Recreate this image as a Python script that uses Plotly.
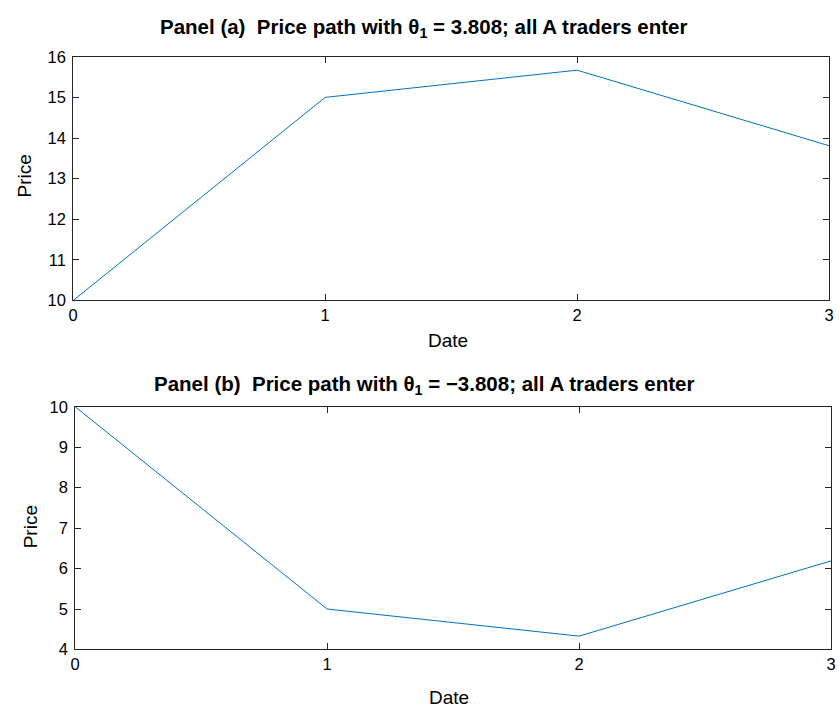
import plotly.graph_objects as go

dates = [0, 1, 2, 3]
price_a = [10.0, 15.0, 15.67, 13.81]
price_b = [10.0, 5.0, 4.33, 6.19]
title_a = "Panel (a)  Price path with θ<sub>1</sub> = 3.808; all A traders enter"
title_b = "Panel (b)  Price path with θ<sub>1</sub> = −3.808; all A traders enter"
yticks_a = [10, 11, 12, 13, 14, 15, 16]
yticks_b = [4, 5, 6, 7, 8, 9, 10]

W, H = 839, 716
FONT = "Arial, Liberation Sans, sans-serif"
AX = "#262626"
LINE = "#0072BD"

def px(x):
    return x / W

def py(y):
    return 1 - y / H

fig = go.Figure()
fig.add_trace(go.Scatter(x=dates, y=price_a, mode="lines", line=dict(color=LINE, width=1),
                         xaxis="x", yaxis="y", showlegend=False))
fig.add_trace(go.Scatter(x=dates, y=price_b, mode="lines", line=dict(color=LINE, width=1),
                         xaxis="x2", yaxis="y2", showlegend=False))

axis_common = dict(showline=True, linecolor=AX, linewidth=1, mirror="ticks", ticks="inside",
                   ticklen=6, tickcolor=AX, tickwidth=1, showgrid=False, zeroline=False,
                   ticklabeloverflow="allow",
                   tickfont=dict(family=FONT, size=16.5, color="#000000"))

fig.update_layout(
    width=W, height=H,
    margin=dict(l=0, r=0, t=0, b=0),
    paper_bgcolor="white", plot_bgcolor="white",
    xaxis=dict(domain=[px(69), px(834)], range=[0, 3], tickvals=dates, anchor="y", **axis_common),
    yaxis=dict(domain=[py(299), py(49)], range=[10, 16], tickvals=yticks_a, anchor="x",
               ticklabelstandoff=3, **axis_common),
    xaxis2=dict(domain=[px(71), px(836)], range=[0, 3], tickvals=dates, anchor="y2", **axis_common),
    yaxis2=dict(domain=[py(657), py(408)], range=[4, 10], tickvals=yticks_b, anchor="x2",
                ticklabelstandoff=3, **axis_common),
)

def ann(text, x, y, size, bold=False, angle=0):
    fig.add_annotation(text=("<b>%s</b>" % text) if bold else text, x=px(x), y=py(y),
                       xref="paper", yref="paper", showarrow=False, textangle=angle,
                       xanchor="center", yanchor="middle",
                       font=dict(family=FONT, size=size, color="#000000"))

ann(title_a, 424, 20, 20.5, bold=True)
ann(title_b, 425, 386, 20.5, bold=True)
ann("Date", 448, 340, 19)
ann("Date", 449, 706, 19)
ann("Price", 20, 171, 19, angle=-90)
ann("Price", 26, 531, 19, angle=-90)

js = "document.body.style.margin='0';document.body.style.padding='0';document.body.style.overflow='hidden';"
fig.write_html("out.html", config={"displayModeBar": False}, post_script=js)
